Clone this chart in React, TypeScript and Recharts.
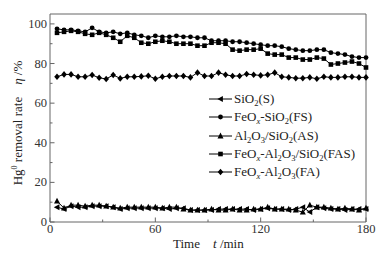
import React from 'react';
import { LineChart, Line, XAxis, YAxis, ReferenceLine, Legend, Customized } from 'recharts';

const times = [4,8,12,16,20,24,28,32,36,40,44,48,52,56,60,64,68,72,76,80,84,88,92,96,100,104,108,112,116,120,124,128,132,136,140,144,148,152,156,160,164,168,172,176,180];

const sS = [7.5,6.5,8,7.5,7.5,8,8,8,7.5,6.5,7,7,7,7,7,7,6.5,7,7,6,6,6,6,6.5,6.5,6.5,6.5,6.5,6,6.5,7,6.5,6.5,6,6.5,7.5,5,7.5,7,6.5,6.5,6,6.5,6.5,6.5];
const sFS = [97.5,97,97,96.5,96,98,96,95.5,96,95,95.5,94.5,94,93,94,93.5,93.5,94,93.5,93.5,93,93,91.5,91.5,91.5,91,91,90.5,90,89.5,89,89,88.5,87.5,87,86.5,86.5,87,87,85.5,85,84.5,83.5,83,83];
const sAS = [10.5,7,8.5,8.5,8,8.5,8.5,8,7.5,7,7.5,7.5,7.5,7.5,7.5,7,7.5,7.5,6.5,6,6,6,6.5,6,6,6.5,6,6,6.5,6.5,7.5,6.5,6.5,6.5,6,5,8.5,7.5,7.5,7,6.5,7,6.5,6,7];
const sFAS = [95.5,96,96.5,96,95,94.5,95.5,94.5,93,91,94,93,90.5,90,91,91.5,91,90,90,90,89,89,90.5,90.5,90,87,86.5,87,87,87.5,85,84.5,84.5,83,83,82,82,83,82.5,79.5,80,80.5,81,80,78];
const sFA = [73.3,74.5,74.5,73.3,73.3,74.2,72.8,72.2,74.2,72.5,73.3,73.3,73.5,73.8,72.3,73.3,73.7,73.7,73.7,73,75.4,73.7,73.7,75.4,74.3,73.7,73.7,74.7,74.3,74,74.3,75.4,73.3,73,72.6,72.6,73,72.3,73.3,73,73,73.3,73.3,73,73];

const xTicks = [0,30,60,90,120,150,180];
const xMajor = [0,60,120,180];
const yTicks = [0,10,20,30,40,50,60,70,80,90,100];
const yMajor = [0,20,40,60,80,100];

const data = times.map((t, i) => ({ t, S: sS[i], FS: sFS[i], AS: sAS[i], FAS: sFAS[i], FA: sFA[i] }));

const FONT = '"Liberation Serif", "Times New Roman", serif';
const AXIS = '#666';

type Shape = 'left' | 'circle' | 'up' | 'square' | 'diamond';

const marker = (shape: Shape, cx: number, cy: number, key?: string) => {
  switch (shape) {
    case 'left':
      return <path key={key} d={`M${cx - 3.2},${cy} L${cx + 2.4},${cy - 3} L${cx + 2.4},${cy + 3} Z`} fill="#000" />;
    case 'circle':
      return <circle key={key} cx={cx} cy={cy} r={2.4} fill="#000" />;
    case 'up':
      return <path key={key} d={`M${cx},${cy - 3.4} L${cx + 3},${cy + 2.4} L${cx - 3},${cy + 2.4} Z`} fill="#000" />;
    case 'square':
      return <rect key={key} x={cx - 2.3} y={cy - 2.3} width={4.6} height={4.6} fill="#000" />;
    default:
      return <path key={key} d={`M${cx},${cy - 3.3} L${cx + 2.8},${cy} L${cx},${cy + 3.3} L${cx - 2.8},${cy} Z`} fill="#000" />;
  }
};

const dotFor = (shape: Shape) => (props: any) => {
  const { cx, cy, index } = props;
  if (cx == null || cy == null) return <g key={`e${index}`} />;
  return marker(shape, cx, cy, `${shape}${index}`);
};

const YTick = (props: any) => {
  const { x, y, payload } = props;
  const v = payload.value;
  const major = yMajor.includes(v);
  return (
    <g>
      <line x1={x} x2={x + (major ? 4.5 : 2.5)} y1={y} y2={y} stroke={AXIS} strokeWidth={1} />
      {major && (
        <text x={x - 3} y={y + 4} textAnchor="end" fontSize={12.5} fontFamily={FONT} fill="#333">{v}</text>
      )}
    </g>
  );
};

const XTick = (props: any) => {
  const { x, y, payload } = props;
  const v = payload.value;
  const major = xMajor.includes(v);
  return (
    <g>
      <line x1={x} x2={x} y1={y} y2={y - (major ? 4.5 : 2.5)} stroke={AXIS} strokeWidth={1} />
      {major && (
        <text x={x} y={y + 11} textAnchor="middle" fontSize={12.5} fontFamily={FONT} fill="#333">{v}</text>
      )}
    </g>
  );
};

const legendItems: { shape: Shape; label: React.ReactNode }[] = [
  { shape: 'left', label: <>SiO<sub>2</sub>(S)</> },
  { shape: 'circle', label: <>FeO<sub><i>x</i></sub>-SiO<sub>2</sub>(FS)</> },
  { shape: 'up', label: <>Al<sub>2</sub>O<sub>3</sub>/SiO<sub>2</sub>(AS)</> },
  { shape: 'square', label: <>FeO<sub><i>x</i></sub>-Al<sub>2</sub>O<sub>3</sub>/SiO<sub>2</sub>(FAS)</> },
  { shape: 'diamond', label: <>FeO<sub><i>x</i></sub>-Al<sub>2</sub>O<sub>3</sub>(FA)</> },
];

const subStyle = `.lg sub{font-size:8.5px;vertical-align:-3px;line-height:0;}`;

const renderLegend = () => (
  <div className="lg" style={{ fontFamily: FONT, fontSize: 13, color: '#222' }}>
    <style>{subStyle}</style>
    {legendItems.map((it, i) => (
      <div key={i} style={{ height: 18.3, display: 'flex', alignItems: 'center', whiteSpace: 'nowrap' }}>
        <svg width={24} height={10} style={{ flex: 'none' }}>
          <line x1={0} x2={23} y1={5} y2={5} stroke="#000" strokeWidth={1} />
          {marker(it.shape, 11.5, 5)}
        </svg>
        <span style={{ marginLeft: 1 }}>{it.label}</span>
      </div>
    ))}
  </div>
);

const AxisLabels = () => (
  <g fontFamily={FONT} fontSize={13} fill="#222">
    <text x={173} y={248}>Time</text>
    <text x={213} y={248}><tspan fontStyle="italic">t</tspan> /min</text>
    <g transform="translate(22,123) rotate(-90)">
      <text x={0} y={0} textAnchor="middle">
        <tspan>Hg</tspan>
        <tspan fontSize={8} dy={-5}>0</tspan>
        <tspan dy={5}> removal rate</tspan>
        <tspan dx={12} fontStyle="italic">η</tspan>
        <tspan> /%</tspan>
      </text>
    </g>
  </g>
);

export default function App() {
  return (
    <div style={{ position: 'absolute', left: 0, top: 0, width: 392, height: 257, background: '#fff' }}>
      <LineChart width={392} height={257} data={data} margin={{ top: 14, right: 26, bottom: 34, left: 49 }}>
        <XAxis
          dataKey="t"
          type="number"
          domain={[0, 180]}
          ticks={xTicks}
          interval={0}
          height={1}
          tickSize={0}
          tickMargin={0}
          tickLine={false}
          tick={<XTick />}
          axisLine={{ stroke: AXIS }}
        />
        <YAxis
          type="number"
          domain={[0, 105]}
          ticks={yTicks}
          interval={0}
          width={1}
          tickSize={0}
          tickMargin={0}
          tickLine={false}
          tick={<YTick />}
          axisLine={{ stroke: AXIS }}
        />
        <ReferenceLine y={105} stroke={AXIS} strokeWidth={1} />
        <ReferenceLine x={180} stroke={AXIS} strokeWidth={1} />
        <Line type="linear" dataKey="S" stroke="#000" strokeWidth={1} dot={dotFor('left')} isAnimationActive={false} />
        <Line type="linear" dataKey="FS" stroke="#000" strokeWidth={1} dot={dotFor('circle')} isAnimationActive={false} />
        <Line type="linear" dataKey="AS" stroke="#000" strokeWidth={1} dot={dotFor('up')} isAnimationActive={false} />
        <Line type="linear" dataKey="FAS" stroke="#000" strokeWidth={1} dot={dotFor('square')} isAnimationActive={false} />
        <Line type="linear" dataKey="FA" stroke="#000" strokeWidth={1} dot={dotFor('diamond')} isAnimationActive={false} />
        <Legend
          layout="vertical"
          align="center"
          verticalAlign="middle"
          content={renderLegend}
          wrapperStyle={{ position: 'absolute', left: 209, top: 90, width: 175, height: 92 }}
        />
        <Customized component={AxisLabels} />
      </LineChart>
    </div>
  );
}
